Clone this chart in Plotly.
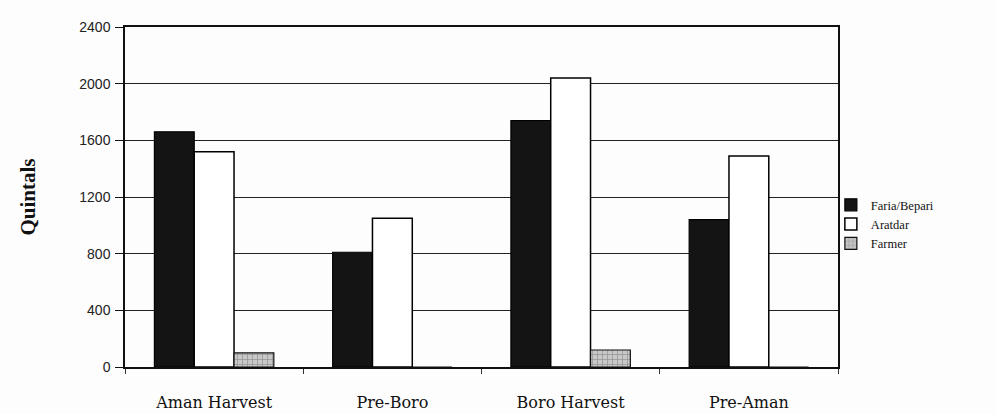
import plotly.graph_objects as go

# Marketed quantities by season and market participant
seasons = ["Aman Harvest", "Pre-Boro", "Boro Harvest", "Pre-Aman"]
faria_bepari = [1660, 810, 1740, 1040]
aratdar = [1520, 1050, 2040, 1490]
farmer = [100, 0, 120, 0]
y_ticks = [0, 400, 800, 1200, 1600, 2000, 2400]

serif = "DejaVu Serif, Liberation Serif, serif"
sans = "Liberation Sans, Arial, sans-serif"

fig = go.Figure()
fig.add_trace(go.Bar(
    name="Faria/Bepari", x=seasons, y=faria_bepari,
    marker=dict(color="#141414", line=dict(color="#000", width=1.2)),
))
fig.add_trace(go.Bar(
    name="Aratdar", x=seasons, y=aratdar,
    marker=dict(color="#ffffff", line=dict(color="#000", width=1.5)),
))
fig.add_trace(go.Bar(
    name="Farmer", x=seasons, y=farmer,
    marker=dict(color="#c8c8c8", line=dict(color="#111", width=1.2),
                pattern=dict(shape="+", size=5, solidity=0.25, fgcolor="#555")),
))

fig.update_layout(
    width=996, height=414,
    margin=dict(l=125, r=158, t=27, b=47),
    paper_bgcolor="#fdfdfd", plot_bgcolor="#fdfdfd",
    barmode="group", bargap=0.33, bargroupgap=0.0,
    showlegend=True,
    legend=dict(x=0.99, y=0.42, xanchor="left", yanchor="middle",
                font=dict(family="Liberation Serif, serif", size=12.5, color="#111"),
                itemwidth=30, tracegroupgap=0, bgcolor="rgba(0,0,0,0)"),
    font=dict(family=sans, color="#111"),
)
fig.update_xaxes(
    showline=True, linecolor="#111", linewidth=1.5, mirror=True,
    ticks="outside", tickson="boundaries", ticklen=5, tickcolor="#333",
    tickfont=dict(family=serif, size=16, color="#111"),
    ticklabelstandoff=20, automargin=False,
    showgrid=False,
)
fig.update_yaxes(
    range=[0, 2400], tickvals=y_ticks,
    showline=True, linecolor="#111", linewidth=1.5, mirror=True,
    ticks="outside", ticklen=8, tickcolor="#111",
    tickfont=dict(family=sans, size=14, color="#222"),
    ticklabelstandoff=2, automargin=False,
    showgrid=True, gridcolor="#222", gridwidth=1.3,
    title=dict(text="<b>Quintals</b>", font=dict(family="Liberation Serif, serif", size=21, color="#111"),
               standoff=38),
)

fig.write_html("out.html")
